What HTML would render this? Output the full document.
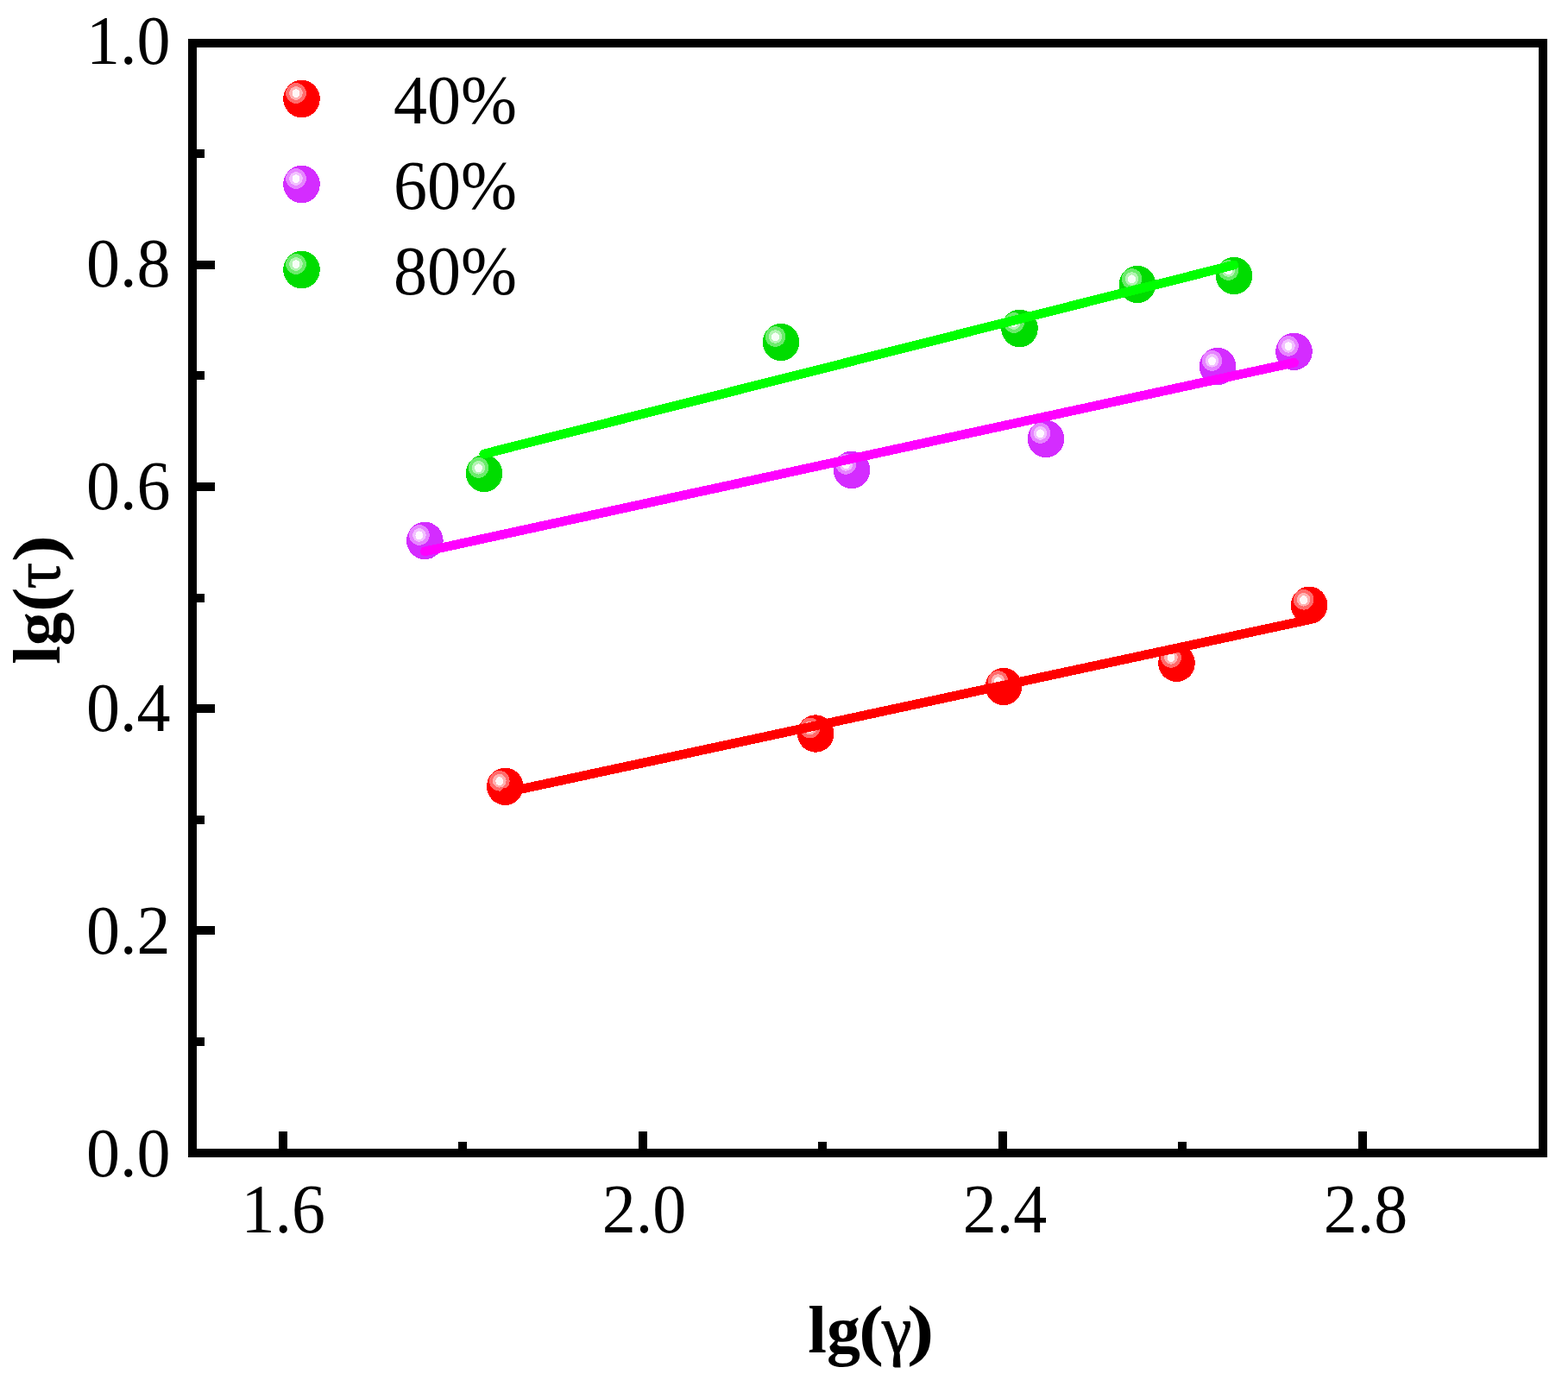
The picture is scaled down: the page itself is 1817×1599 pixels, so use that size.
<!DOCTYPE html>
<html lang="en"><head><meta charset="utf-8"><title>lg(τ) – lg(γ)</title>
<style>
html,body{margin:0;padding:0;background:#fff;}
body{width:1817px;height:1599px;overflow:hidden;}
svg{display:block;}
text{font-family:"Liberation Serif","DejaVu Serif",serif;font-size:78px;fill:#000;}
.b{font-weight:bold;}
.n{font-weight:normal;}
</style></head><body>
<svg width="1817" height="1599" viewBox="0 0 1817 1599" role="img" aria-label="lg(τ) versus lg(γ)">
<rect x="0" y="0" width="1817" height="1599" fill="#ffffff"/>
<g id="markers" shape-rendering="crispEdges">
<g transform="translate(585.3,911.3)"><ellipse rx="21.3" ry="21.7" fill="#ff0000"/><circle cx="-6.5" cy="-6.5" r="11.8" fill="#ff6b6b"/><circle cx="-6.5" cy="-6.5" r="7.8" fill="#ffb2b2"/><ellipse cx="-6.5" cy="-6.1" rx="4.5" ry="5.0" fill="#fff7f7"/></g>
<g transform="translate(945.2,850.0)"><ellipse rx="21.3" ry="21.7" fill="#ff0000"/><circle cx="-6.5" cy="-6.5" r="11.8" fill="#ff6b6b"/><circle cx="-6.5" cy="-6.5" r="7.8" fill="#ffb2b2"/><ellipse cx="-6.5" cy="-6.1" rx="4.5" ry="5.0" fill="#fff7f7"/></g>
<g transform="translate(1163.0,795.5)"><ellipse rx="21.3" ry="21.7" fill="#ff0000"/><circle cx="-6.5" cy="-6.5" r="11.8" fill="#ff6b6b"/><circle cx="-6.5" cy="-6.5" r="7.8" fill="#ffb2b2"/><ellipse cx="-6.5" cy="-6.1" rx="4.5" ry="5.0" fill="#fff7f7"/></g>
<g transform="translate(1363.5,768.4)"><ellipse rx="21.3" ry="21.7" fill="#ff0000"/><circle cx="-6.5" cy="-6.5" r="11.8" fill="#ff6b6b"/><circle cx="-6.5" cy="-6.5" r="7.8" fill="#ffb2b2"/><ellipse cx="-6.5" cy="-6.1" rx="4.5" ry="5.0" fill="#fff7f7"/></g>
<g transform="translate(1517.1,701.3)"><ellipse rx="21.3" ry="21.7" fill="#ff0000"/><circle cx="-6.5" cy="-6.5" r="11.8" fill="#ff6b6b"/><circle cx="-6.5" cy="-6.5" r="7.8" fill="#ffb2b2"/><ellipse cx="-6.5" cy="-6.1" rx="4.5" ry="5.0" fill="#fff7f7"/></g>
<g transform="translate(492.4,626.5)"><ellipse rx="21.3" ry="21.7" fill="#d42cff"/><circle cx="-6.5" cy="-6.5" r="11.8" fill="#e685ff"/><circle cx="-6.5" cy="-6.5" r="7.8" fill="#f2c0ff"/><ellipse cx="-6.5" cy="-6.1" rx="4.5" ry="5.0" fill="#fef9ff"/></g>
<g transform="translate(986.9,544.4)"><ellipse rx="21.3" ry="21.7" fill="#d42cff"/><circle cx="-6.5" cy="-6.5" r="11.8" fill="#e685ff"/><circle cx="-6.5" cy="-6.5" r="7.8" fill="#f2c0ff"/><ellipse cx="-6.5" cy="-6.1" rx="4.5" ry="5.0" fill="#fef9ff"/></g>
<g transform="translate(1212.0,508.4)"><ellipse rx="21.3" ry="21.7" fill="#d42cff"/><circle cx="-6.5" cy="-6.5" r="11.8" fill="#e685ff"/><circle cx="-6.5" cy="-6.5" r="7.8" fill="#f2c0ff"/><ellipse cx="-6.5" cy="-6.1" rx="4.5" ry="5.0" fill="#fef9ff"/></g>
<g transform="translate(1411.0,424.4)"><ellipse rx="21.3" ry="21.7" fill="#d42cff"/><circle cx="-6.5" cy="-6.5" r="11.8" fill="#e685ff"/><circle cx="-6.5" cy="-6.5" r="7.8" fill="#f2c0ff"/><ellipse cx="-6.5" cy="-6.1" rx="4.5" ry="5.0" fill="#fef9ff"/></g>
<g transform="translate(1499.5,407.4)"><ellipse rx="21.3" ry="21.7" fill="#d42cff"/><circle cx="-6.5" cy="-6.5" r="11.8" fill="#e685ff"/><circle cx="-6.5" cy="-6.5" r="7.8" fill="#f2c0ff"/><ellipse cx="-6.5" cy="-6.1" rx="4.5" ry="5.0" fill="#fef9ff"/></g>
<g transform="translate(561.0,548.4)"><ellipse rx="21.3" ry="21.7" fill="#00dc00"/><circle cx="-6.5" cy="-6.5" r="11.8" fill="#6beb6b"/><circle cx="-6.5" cy="-6.5" r="7.8" fill="#b2f4b2"/><ellipse cx="-6.5" cy="-6.1" rx="4.5" ry="5.0" fill="#f7fef7"/></g>
<g transform="translate(905.0,396.5)"><ellipse rx="21.3" ry="21.7" fill="#00dc00"/><circle cx="-6.5" cy="-6.5" r="11.8" fill="#6beb6b"/><circle cx="-6.5" cy="-6.5" r="7.8" fill="#b2f4b2"/><ellipse cx="-6.5" cy="-6.1" rx="4.5" ry="5.0" fill="#f7fef7"/></g>
<g transform="translate(1181.5,380.5)"><ellipse rx="21.3" ry="21.7" fill="#00dc00"/><circle cx="-6.5" cy="-6.5" r="11.8" fill="#6beb6b"/><circle cx="-6.5" cy="-6.5" r="7.8" fill="#b2f4b2"/><ellipse cx="-6.5" cy="-6.1" rx="4.5" ry="5.0" fill="#f7fef7"/></g>
<g transform="translate(1318.0,329.5)"><ellipse rx="21.3" ry="21.7" fill="#00dc00"/><circle cx="-6.5" cy="-6.5" r="11.8" fill="#6beb6b"/><circle cx="-6.5" cy="-6.5" r="7.8" fill="#b2f4b2"/><ellipse cx="-6.5" cy="-6.1" rx="4.5" ry="5.0" fill="#f7fef7"/></g>
<g transform="translate(1430.0,319.5)"><ellipse rx="21.3" ry="21.7" fill="#00dc00"/><circle cx="-6.5" cy="-6.5" r="11.8" fill="#6beb6b"/><circle cx="-6.5" cy="-6.5" r="7.8" fill="#b2f4b2"/><ellipse cx="-6.5" cy="-6.1" rx="4.5" ry="5.0" fill="#f7fef7"/></g>
</g>
<g id="fits" fill="none" stroke-width="10.7" stroke-linecap="round" shape-rendering="crispEdges">
<line x1="585.3" y1="918.3" x2="1517.1" y2="718.0" stroke="#ff0000"/>
<line x1="492.3" y1="638.9" x2="1499.6" y2="420.2" stroke="#ff00ff"/>
<line x1="560.7" y1="526.0" x2="1429.8" y2="307.1" stroke="#00ff00"/>
</g>
<g id="axes" fill="#000" shape-rendering="crispEdges">
<rect x="218" y="45" width="1575" height="10"/>
<rect x="218" y="1331" width="1575" height="10"/>
<rect x="218" y="45" width="10" height="1296"/>
<rect x="1783" y="45" width="10" height="1296"/>
<rect x="223" y="302" width="26" height="10"/>
<rect x="223" y="559" width="26" height="10"/>
<rect x="223" y="816" width="26" height="10"/>
<rect x="223" y="1073" width="26" height="10"/>
<rect x="223" y="173" width="14" height="10"/>
<rect x="223" y="430" width="14" height="10"/>
<rect x="223" y="688" width="14" height="10"/>
<rect x="223" y="945" width="14" height="10"/>
<rect x="223" y="1202" width="14" height="10"/>
<rect x="323" y="1311" width="10" height="25"/>
<rect x="740" y="1311" width="10" height="25"/>
<rect x="1157" y="1311" width="10" height="25"/>
<rect x="1574" y="1311" width="10" height="25"/>
<rect x="531" y="1323" width="10" height="13"/>
<rect x="948" y="1323" width="10" height="13"/>
<rect x="1365" y="1323" width="10" height="13"/>
</g>
<g id="ylabels">
<text transform="translate(197.6,74.0) scale(1,1.020)" text-anchor="end">1.0</text>
<text transform="translate(197.6,332.0) scale(1,1.020)" text-anchor="end">0.8</text>
<text transform="translate(197.6,590.0) scale(1,1.020)" text-anchor="end">0.6</text>
<text transform="translate(197.6,847.0) scale(1,1.020)" text-anchor="end">0.4</text>
<text transform="translate(197.6,1105.0) scale(1,1.020)" text-anchor="end">0.2</text>
<text transform="translate(197.6,1363.0) scale(1,1.020)" text-anchor="end">0.0</text>
</g>
<g id="xlabels">
<text transform="translate(328.3,1428.0) scale(1,1.020)" text-anchor="middle">1.6</text>
<text transform="translate(746.4,1428.0) scale(1,1.020)" text-anchor="middle">2.0</text>
<text transform="translate(1164.4,1428.0) scale(1,1.020)" text-anchor="middle">2.4</text>
<text transform="translate(1582.5,1428.0) scale(1,1.020)" text-anchor="middle">2.8</text>
</g>
<g id="legend">
<g shape-rendering="crispEdges"><g transform="translate(349.5,114.5)"><ellipse rx="21.3" ry="21.7" fill="#ff0000"/><circle cx="-6.5" cy="-6.5" r="11.8" fill="#ff6b6b"/><circle cx="-6.5" cy="-6.5" r="7.8" fill="#ffb2b2"/><ellipse cx="-6.5" cy="-6.1" rx="4.5" ry="5.0" fill="#fff7f7"/></g></g>
<text transform="translate(456.0,143.0) scale(1,1.020)" text-anchor="start">40%</text>
<g shape-rendering="crispEdges"><g transform="translate(349.5,213.5)"><ellipse rx="21.3" ry="21.7" fill="#d42cff"/><circle cx="-6.5" cy="-6.5" r="11.8" fill="#e685ff"/><circle cx="-6.5" cy="-6.5" r="7.8" fill="#f2c0ff"/><ellipse cx="-6.5" cy="-6.1" rx="4.5" ry="5.0" fill="#fef9ff"/></g></g>
<text transform="translate(456.0,242.0) scale(1,1.020)" text-anchor="start">60%</text>
<g shape-rendering="crispEdges"><g transform="translate(349.5,312.5)"><ellipse rx="21.3" ry="21.7" fill="#00dc00"/><circle cx="-6.5" cy="-6.5" r="11.8" fill="#6beb6b"/><circle cx="-6.5" cy="-6.5" r="7.8" fill="#b2f4b2"/><ellipse cx="-6.5" cy="-6.1" rx="4.5" ry="5.0" fill="#f7fef7"/></g></g>
<text transform="translate(456.0,341.0) scale(1,1.020)" text-anchor="start">80%</text>
</g>
<g id="titles" class="b">
<text y="1567"><tspan x="936.3">lg</tspan><tspan x="995.2" textLength="28.6" lengthAdjust="spacingAndGlyphs">(</tspan><tspan x="1021.9" class="n" stroke="#000" stroke-width="0.9">γ</tspan><tspan x="1050.9" textLength="31.4" lengthAdjust="spacingAndGlyphs">)</tspan></text>
<text transform="translate(68.8,769.8) rotate(-90)"><tspan x="0">lg</tspan><tspan x="60.9" textLength="28.6" lengthAdjust="spacingAndGlyphs">(</tspan><tspan x="87.0" class="n" stroke="#000" stroke-width="0.5">τ</tspan><tspan x="118.6" textLength="31.4" lengthAdjust="spacingAndGlyphs">)</tspan></text>
</g>
</svg>
</body></html>
